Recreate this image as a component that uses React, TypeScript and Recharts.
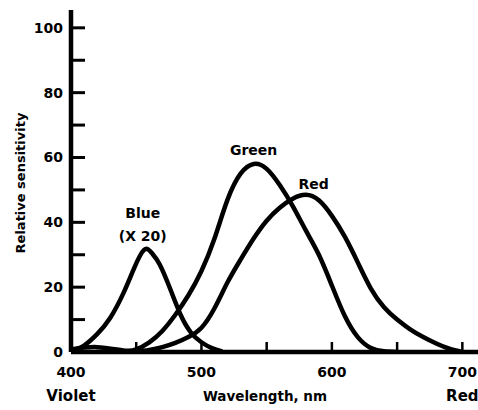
import { Label, Line, LineChart, ReferenceDot, XAxis, YAxis } from "recharts";

// wavelength (nm) / relative sensitivity
const blueWavelengths = [400, 410, 420, 430, 440, 448, 456, 462, 468, 476, 484, 492, 500, 508, 516];
const blueValues = [0, 2, 5.5, 10.5, 18, 25.5, 31.5, 30.5, 27, 19.5, 11.5, 6, 3, 1.2, 0.2];

const greenWavelengths = [400, 420, 440, 450, 460, 470, 480, 490, 500, 510, 520, 530, 540, 550, 560, 570, 580, 590, 600, 610, 620, 630, 640, 650];
const greenValues = [0.8, 1.5, 0.5, 0.8, 3, 6.5, 11.5, 17.5, 25, 35, 47, 55, 58, 56.5, 51.5, 45, 37.5, 30, 20.5, 11, 4.5, 1.2, 0.2, 0];

const redWavelengths = [450, 460, 470, 480, 490, 500, 510, 520, 530, 540, 550, 560, 570, 580, 590, 600, 610, 620, 630, 640, 650, 660, 670, 680, 690, 700];
const redValues = [0, 0.6, 1.5, 2.8, 4.6, 7.5, 13.5, 21.5, 28.5, 35, 40.5, 44.5, 47.3, 48.5, 46.8, 42, 35.5, 27.5, 19.5, 13.8, 10, 7, 4.6, 2.6, 1, 0];

const xTicks = [400, 450, 500, 550, 600, 650, 700];
const xLabelled = [400, 500, 600, 700];
const xSubLabels: Record<number, string> = { 400: "Violet", 700: "Red" };
const yTicks = [0, 10, 20, 30, 40, 50, 60, 70, 80, 90, 100];

const toPoints = (wl: number[], v: number[]) => wl.map((w, i) => ({ wl: w, v: v[i] }));

const FONT = "'DejaVu Sans', sans-serif";

const XTick = (props: any) => {
  const { x, y, payload } = props;
  const value = payload.value;
  return (
    <g>
      {value !== 400 && <line x1={x} y1={y} x2={x} y2={y - 10} stroke="#000" strokeWidth={2.5} />}
      {xLabelled.includes(value) && (
        <text x={x} y={y + 20} textAnchor="middle" dominantBaseline="central" fontFamily={FONT} fontWeight="bold" fontSize={14} fill="#000">
          {value}
        </text>
      )}
      {xSubLabels[value] && (
        <text x={x} y={y + 44} textAnchor="middle" dominantBaseline="central" fontFamily={FONT} fontWeight="bold" fontSize={15} fill="#000">
          {xSubLabels[value]}
        </text>
      )}
    </g>
  );
};

const YTick = (props: any) => {
  const { x, y, payload } = props;
  const value = payload.value;
  return (
    <g>
      {value !== 0 && <line x1={x} y1={y} x2={x + 14} y2={y} stroke="#000" strokeWidth={3} />}
      {value % 20 === 0 && (
        <text x={x - 8} y={y} textAnchor="end" dominantBaseline="central" fontFamily={FONT} fontWeight="bold" fontSize={14} fill="#000">
          {value}
        </text>
      )}
    </g>
  );
};

const curveLabel = (lines: string[]) => (p: any) => (
  <text x={p.cx} y={p.cy} textAnchor="middle" dominantBaseline="central" fontFamily={FONT} fontWeight="bold" fontSize={14} fill="#000">
    {lines.map((t, i) => (
      <tspan key={t} x={p.cx} dy={i === 0 ? 0 : 23}>
        {t}
      </tspan>
    ))}
  </text>
);

export default function App() {
  return (
    <div style={{ position: "absolute", left: 0, top: 0, background: "#fff" }}>
      <LineChart width={478} height={410} margin={{ top: 10, right: 0, bottom: 0, left: 0 }}>
        <XAxis
          type="number"
          dataKey="wl"
          domain={[400, 712]}
          ticks={xTicks}
          interval={0}
          allowDataOverflow
          height={58}
          tickSize={0}
          tickMargin={0}
          tickLine={false}
          axisLine={{ stroke: "#000", strokeWidth: 4.5 }}
          tick={<XTick />}
        >
          <Label
            content={(p: any) => (
              <text x={p.viewBox.x + 194} y={p.viewBox.y + 49} textAnchor="middle" fontFamily={FONT} fontWeight="bold" fontSize={13.5} fill="#000">
                Wavelength, nm
              </text>
            )}
          />
        </XAxis>
        <YAxis
          type="number"
          dataKey="v"
          domain={[0, 105.5]}
          ticks={yTicks}
          interval={0}
          allowDataOverflow
          width={71}
          tickSize={0}
          tickMargin={0}
          tickLine={false}
          axisLine={{ stroke: "#000", strokeWidth: 4.5 }}
          tick={<YTick />}
        >
          <Label
            content={(p: any) => {
              const cx = p.viewBox.x + 20;
              const cy = p.viewBox.y + p.viewBox.height / 2 + 2;
              return (
                <text x={cx} y={cy} transform={`rotate(-90 ${cx} ${cy})`} textAnchor="middle" dominantBaseline="central" fontFamily={FONT} fontWeight="bold" fontSize={13} fill="#000">
                  Relative sensitivity
                </text>
              );
            }}
          />
        </YAxis>
        <Line data={toPoints(blueWavelengths, blueValues)} dataKey="v" type="natural" stroke="#000" strokeWidth={4.5} dot={false} isAnimationActive={false} />
        <Line data={toPoints(greenWavelengths, greenValues)} dataKey="v" type="natural" stroke="#000" strokeWidth={4.5} dot={false} isAnimationActive={false} />
        <Line data={toPoints(redWavelengths, redValues)} dataKey="v" type="natural" stroke="#000" strokeWidth={4.5} dot={false} isAnimationActive={false} />
        <ReferenceDot x={455} y={43} shape={curveLabel(["Blue", "(X 20)"])} ifOverflow="visible" />
        <ReferenceDot x={540} y={62.3} shape={curveLabel(["Green"])} ifOverflow="visible" />
        <ReferenceDot x={586} y={51.9} shape={curveLabel(["Red"])} ifOverflow="visible" />
      </LineChart>
    </div>
  );
}
